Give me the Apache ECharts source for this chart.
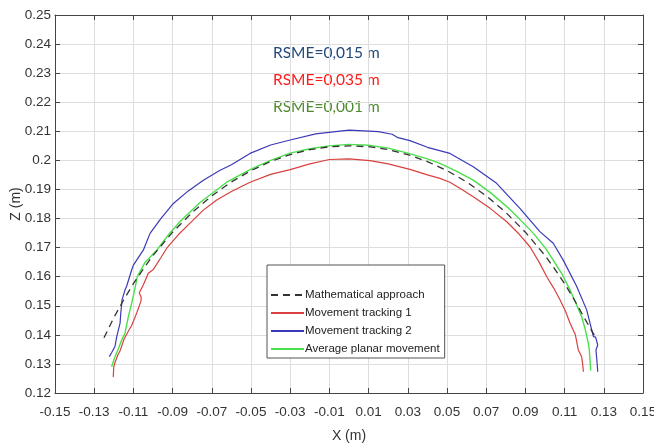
<!DOCTYPE html>
<html>
<head>
<meta charset="utf-8">
<script src="https://cdn.jsdelivr.net/npm/echarts@6/dist/echarts.min.js"></script>
<style>
	html, body { margin: 0; padding: 0; background: #fff; }
	#main { width: 654px; height: 445px; }
</style>
</head>
<body>
<div id="main"></div>
<script type="text/javascript">

	// series values, [x, z] in metres
	var mathApproach = [
		[-0.1250,0.1390],[-0.1200,0.1459],[-0.1150,0.1520],[-0.1100,0.1576],[-0.1050,0.1626],[-0.1000,0.1673],
		[-0.0900,0.1753],[-0.0800,0.1821],[-0.0700,0.1878],[-0.0600,0.1926],[-0.0500,0.1965],[-0.0400,0.1996],
		[-0.0300,0.2020],[-0.0200,0.2037],[-0.0100,0.2047],[0.0000,0.2050],[0.0100,0.2047],[0.0200,0.2037],
		[0.0300,0.2020],[0.0400,0.1996],[0.0500,0.1965],[0.0600,0.1926],[0.0700,0.1878],[0.0800,0.1821],
		[0.0900,0.1753],[0.1000,0.1673],[0.1050,0.1626],[0.1100,0.1576],[0.1150,0.1520],[0.1200,0.1459],[0.1259,0.1390]
	];
	var tracking1 = [
		[-0.1203,0.1255],[-0.1200,0.1290],[-0.1194,0.1305],[-0.1180,0.1330],[-0.1168,0.1345],[-0.1148,0.1385],
		[-0.1128,0.1410],[-0.1109,0.1432],[-0.1083,0.1475],[-0.1062,0.1515],[-0.1060,0.1528],[-0.1070,0.1545],
		[-0.1049,0.1572],[-0.1024,0.1612],[-0.0998,0.1625],[-0.0960,0.1665],[-0.0930,0.1698],[-0.0870,0.1745],
		[-0.0811,0.1784],[-0.0745,0.1828],[-0.0675,0.1864],[-0.0600,0.1893],[-0.0505,0.1925],[-0.0400,0.1952],
		[-0.0300,0.1968],[-0.0200,0.1988],[-0.0100,0.2003],[0.0000,0.2005],[0.0107,0.1999],[0.0200,0.1988],
		[0.0311,0.1969],[0.0400,0.1950],[0.0464,0.1938],[0.0515,0.1925],[0.0580,0.1898],[0.0634,0.1875],
		[0.0720,0.1835],[0.0805,0.1789],[0.0870,0.1745],[0.0923,0.1703],[0.0970,0.1650],[0.1009,0.1600],
		[0.1045,0.1560],[0.1077,0.1520],[0.1105,0.1480],[0.1128,0.1440],[0.1155,0.1400],[0.1170,0.1348],
		[0.1187,0.1325],[0.1192,0.1300],[0.1196,0.1273]
	];
	var tracking2 = [
		[-0.1223,0.1325],[-0.1210,0.1340],[-0.1194,0.1360],[-0.1185,0.1394],[-0.1168,0.1440],[-0.1165,0.1470],
		[-0.1160,0.1505],[-0.1158,0.1520],[-0.1143,0.1554],[-0.1134,0.1568],[-0.1109,0.1623],[-0.1100,0.1640],
		[-0.1049,0.1692],[-0.1015,0.1749],[-0.0960,0.1800],[-0.0896,0.1852],[-0.0820,0.1895],[-0.0743,0.1932],
		[-0.0660,0.1965],[-0.0600,0.1985],[-0.0505,0.2024],[-0.0400,0.2053],[-0.0300,0.2070],[-0.0170,0.2091],
		[0.0000,0.2104],[0.0150,0.2099],[0.0220,0.2090],[0.0250,0.2078],[0.0311,0.2068],[0.0400,0.2045],
		[0.0515,0.2024],[0.0634,0.1978],[0.0753,0.1921],[0.0872,0.1835],[0.0974,0.1755],[0.1042,0.1715],
		[0.1093,0.1657],[0.1162,0.1566],[0.1213,0.1485],[0.1247,0.1394],[0.1258,0.1392],[0.1269,0.1365],
		[0.1260,0.1348],[0.1265,0.1310],[0.1269,0.1273]
	];
	var averagePlanar = [
		[-0.1211,0.1290],[-0.1194,0.1325],[-0.1175,0.1355],[-0.1160,0.1382],[-0.1143,0.1405],[-0.1126,0.1462],
		[-0.1109,0.1508],[-0.1092,0.1560],[-0.1080,0.1600],[-0.1040,0.1650],[-0.0980,0.1692],[-0.0920,0.1745],
		[-0.0862,0.1790],[-0.0760,0.1855],[-0.0624,0.1925],[-0.0500,0.1970],[-0.0400,0.2000],[-0.0300,0.2025],
		[-0.0200,0.2040],[-0.0100,0.2050],[0.0000,0.2055],[0.0100,0.2052],[0.0200,0.2042],[0.0300,0.2025],
		[0.0400,0.2005],[0.0464,0.1990],[0.0550,0.1962],[0.0634,0.1932],[0.0720,0.1890],[0.0805,0.1841],
		[0.0870,0.1798],[0.0941,0.1749],[0.1000,0.1700],[0.1042,0.1657],[0.1090,0.1605],[0.1128,0.1554],
		[0.1160,0.1505],[0.1187,0.1462],[0.1205,0.1420],[0.1221,0.1371],[0.1226,0.1348],[0.1230,0.1310],
		[0.1233,0.1277]
	];

	var seriesNames = ['Mathematical approach', 'Movement tracking 1', 'Movement tracking 2', 'Average planar movement'];
	var rsmeTexts = ['RSME=0,015 m', 'RSME=0,035 m', 'RSME=0,001 m'];

	var labelFont = 'Liberation Sans, Arial, sans-serif';
	function fmt(v) { return String(+v.toFixed(2)); }

	var axisCommon = {
		axisLine: { show: true, onZero: false, lineStyle: { color: '#444', width: 1 } },
		axisTick: { show: true, inside: true, length: 5, lineStyle: { color: '#444' } },
		splitLine: { show: false }
	};

	var chart = echarts.init(document.getElementById('main'));
	chart.setOption({
		animation: false,
		grid: { left: 55, right: 11, top: 15, bottom: 52, outerBoundsMode: 'none', containLabel: false },
		legend: {
			orient: 'vertical',
			left: 267,
			top: 265,
			padding: [24, 5, 3, 3],
			itemGap: 6,
			itemWidth: 33,
			itemHeight: 14,
			itemStyle: { opacity: 0 },
			backgroundColor: '#fff',
			borderColor: '#555',
			borderWidth: 1,
			borderRadius: 0,
			textStyle: { fontFamily: labelFont, fontSize: 11.5, color: '#222', padding: [0, 0, 0, -4] },
			data: seriesNames
		},
		xAxis: [
			echarts.util.merge({
				type: 'value', min: -0.15, max: 0.15, interval: 0.02,
				name: 'X (m)', nameLocation: 'middle', nameGap: 36, nameMoveOverlap: false,
				nameTextStyle: { fontFamily: labelFont, fontSize: 14, color: '#333' },
				axisLabel: { formatter: fmt, margin: 12, fontFamily: labelFont, fontSize: 13.5, color: '#333' },
				splitLine: { show: true, lineStyle: { color: '#dedede' } }
			}, axisCommon, false),
			echarts.util.merge({
				type: 'value', position: 'top', min: -0.15, max: 0.15, interval: 0.02,
				axisLabel: { show: false }
			}, axisCommon, false)
		],
		yAxis: [
			echarts.util.merge({
				type: 'value', min: 0.12, max: 0.25, interval: 0.01,
				name: 'Z (m)', nameLocation: 'middle', nameGap: 32, nameRotate: 90, nameMoveOverlap: false,
				nameTextStyle: { fontFamily: labelFont, fontSize: 14, color: '#333' },
				axisLabel: { formatter: fmt, margin: 4, fontFamily: labelFont, fontSize: 13.5, color: '#333' },
				splitLine: { show: true, lineStyle: { color: '#dedede' } }
			}, axisCommon, false),
			echarts.util.merge({
				type: 'value', position: 'right', min: 0.12, max: 0.25, interval: 0.01,
				axisLabel: { show: false }
			}, axisCommon, false)
		],
		graphic: [
			{ type: 'text', left: 273, top: 45, style: { text: rsmeTexts[0], fill: '#22497a', font: '15.5px Lato, sans-serif' } },
			{ type: 'text', left: 273, top: 72, style: { text: rsmeTexts[1], fill: '#ff1a1a', font: '15.5px Lato, sans-serif' } },
			{ type: 'text', left: 273, top: 99, style: { text: rsmeTexts[2], fill: '#4f8a2e', font: '15.5px Lato, sans-serif' } }
		],
		series: [
			{
				name: seriesNames[0], type: 'line', data: mathApproach, symbol: 'none', z: 5,
				lineStyle: { color: '#333', width: 1.3, type: [7, 5] }, itemStyle: { color: '#333' }
			},
			{
				name: seriesNames[1], type: 'line', data: tracking1, symbol: 'none',
				lineStyle: { color: '#d9403f', width: 1.2 }, itemStyle: { color: '#d9403f' }
			},
			{
				name: seriesNames[2], type: 'line', data: tracking2, symbol: 'none',
				lineStyle: { color: '#3a3ab8', width: 1.2 }, itemStyle: { color: '#3a3ab8' }
			},
			{
				name: seriesNames[3], type: 'line', data: averagePlanar, symbol: 'none',
				lineStyle: { color: '#4be04b', width: 1.4 }, itemStyle: { color: '#4be04b' }
			}
		]
	});

</script>
</body>
</html>
